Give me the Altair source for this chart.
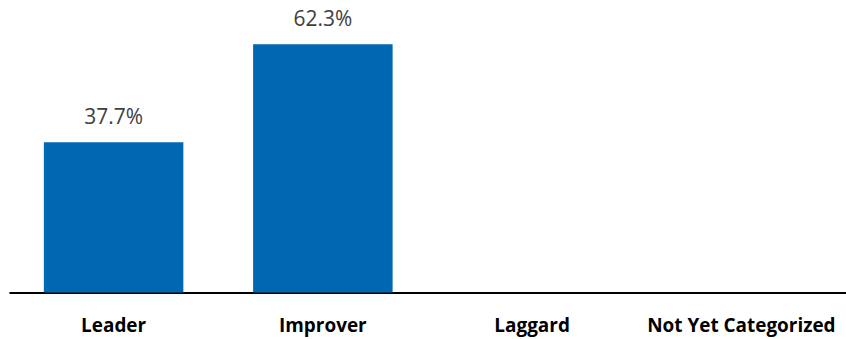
import altair as alt
import pandas as pd

# Share of companies per category
categories = ["Leader", "Improver", "Laggard", "Not Yet Categorized"]
shares = [37.7, 62.3, 0.0, 0.0]

df = pd.DataFrame({"category": categories, "share": shares})
df["label"] = [f"{v:.1f}%" if v > 0 else "" for v in shares]

x_enc = alt.X(
    "category:N",
    sort=categories,
    title=None,
    scale=alt.Scale(paddingInner=1 / 3, paddingOuter=1 / 6),
    axis=alt.Axis(
        labelAngle=0,
        labelFont="Open Sans",
        labelFontWeight="bold",
        labelFontSize=19,
        labelColor="#000000",
        labelBaseline="alphabetic",
        labelPadding=39,
        labelLimit=400,
        ticks=False,
        tickSize=0,
        domainColor="#000000",
        domainWidth=2,
        grid=False,
    ),
)
y_enc = alt.Y(
    "share:Q",
    title=None,
    scale=alt.Scale(domain=[0, 70], nice=False),
    axis=None,
)

bars = alt.Chart(df).mark_bar(color="#0067B2").encode(x=x_enc, y=y_enc)

labels = (
    alt.Chart(df)
    .transform_filter(alt.datum.share > 0)
    .mark_text(
        font="Open Sans",
        fontSize=21,
        color="#404040",
        baseline="alphabetic",
        dy=-18,
    )
    .encode(x=alt.X("category:N", sort=categories), y="share:Q", text="label:N")
)

chart = (
    alt.layer(bars, labels)
    .properties(
        width=840,
        height=280,
        background="white",
        autosize=alt.AutoSizeParams(type="none"),
        padding={"left": 9, "top": 13, "right": 0, "bottom": 46},
    )
    .configure_view(strokeWidth=0, stroke="transparent")
)

chart.save("out.html", embed_options={"renderer": "svg", "actions": False})
